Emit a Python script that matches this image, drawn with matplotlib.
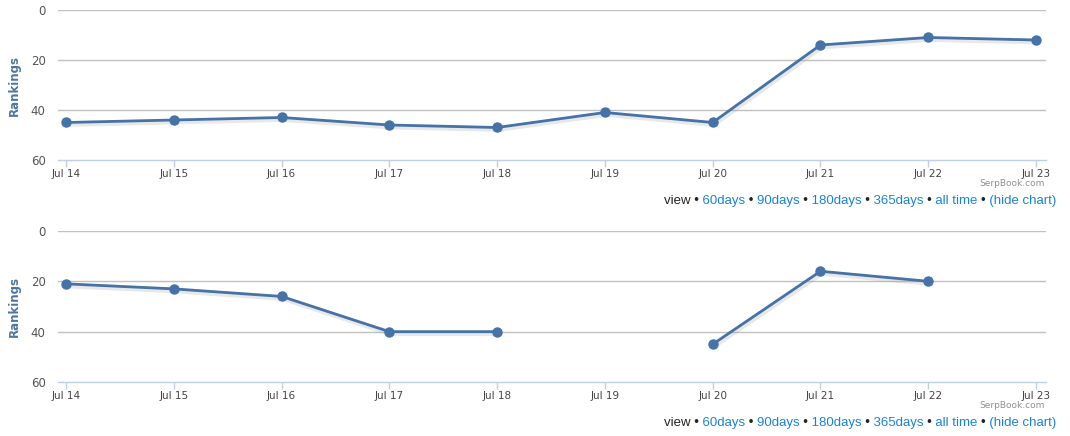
import matplotlib.pyplot as plt
import matplotlib.transforms as mtransforms
import numpy as np

DATES = ["Jul 14", "Jul 15", "Jul 16", "Jul 17", "Jul 18",
         "Jul 19", "Jul 20", "Jul 21", "Jul 22", "Jul 23"]
TOP_RANKS = [45, 44, 43, 46, 47, 41, 45, 14, 11, 12]
BOTTOM_RANKS = [21, 23, 26, 40, 40, np.nan, 45, 16, 20, np.nan]
Y_TICKS = [0, 20, 40, 60]
LINKS = ["60days", "90days", "180days", "365days", "all time", "(hide chart)"]

W, H = 1070, 436
LINE = "#4572A7"
GRID = "#C0C0C0"
AXIS = "#C0D0E0"
LINK = "#1a82d6"
DARK = "#222222"


def draw_chart(fig, top_px, bottom_px, ranks):
    left, right = 58, 1046
    ax = fig.add_axes([left / W, 1 - bottom_px / H, (right - left) / W,
                       (bottom_px - top_px) / H])
    x = np.arange(len(DATES))
    ppu = (1036 - 66) / (len(DATES) - 1)
    ax.set_xlim(-(66 - left) / ppu, len(DATES) - 1 + (right - 1036) / ppu)
    ax.set_ylim(60, 0)

    for yv in Y_TICKS[:-1]:
        ax.axhline(yv, color=GRID, lw=1.0, zorder=1)
    for s in ["top", "left", "right"]:
        ax.spines[s].set_visible(False)
    ax.spines["bottom"].set_color(AXIS)
    ax.spines["bottom"].set_linewidth(1.0)

    # soft shadow under the line, then line with markers on top
    shift = mtransforms.ScaledTranslation(0.8 / 72, -1.2 / 72, fig.dpi_scale_trans)
    ax.plot(x, ranks, color="#999999", lw=4, alpha=0.22, zorder=2,
            transform=ax.transData + shift)
    ax.plot(x, ranks, color=LINE, lw=2.0, marker="o", ms=6.5,
            solid_joinstyle="round", zorder=3)

    ax.set_xticks(x)
    ax.set_xticklabels(DATES, fontsize=7.5, color="#444444")
    ax.tick_params(axis="x", length=5, width=1, color=AXIS, pad=1.5)
    ax.set_yticks(Y_TICKS)
    ax.set_yticklabels([str(v) for v in Y_TICKS], fontsize=8.5, color="#555555")
    ax.tick_params(axis="y", length=0, pad=9)
    ax.set_ylabel("Rankings", fontsize=8.5, fontweight="bold", color="#4d759e",
                  labelpad=7)
    ax.set_facecolor("none")

    fig.text(1045 / W, 1 - (bottom_px + 23) / H, "SerpBook.com", fontsize=6.5,
             color="#909090", ha="right", va="center")
    return ax


def draw_links(fig, renderer, bottom_px):
    # one full line of text, drawn once per piece and clipped to that piece,
    # so spacing stays natural while colours change word by word
    y = 1 - (bottom_px + 41) / H
    pieces = [("view", DARK)]
    for name in LINKS:
        pieces.append(("\u2022", DARK))
        pieces.append((name, LINK))
    kw = dict(fontsize=9.5, family="Liberation Sans", va="center", ha="right")

    probe = fig.text(0, 0, "", **kw)

    def width(s):
        probe.set_text(s)
        return probe.get_window_extent(renderer).width

    full = " ".join(p for p, _ in pieces)
    x_right = 1056.0
    x0 = x_right - width(full)
    spans = []
    prefix = ""
    for text, _ in pieces:
        upto = (prefix + " " + text) if prefix else text
        end = x0 + width(upto)
        spans.append((end - width(text), end))
        prefix = upto
    probe.remove()

    bounds = [0.0]
    for (s0, e0), (s1, e1) in zip(spans[:-1], spans[1:]):
        bounds.append((e0 + s1) / 2)
    bounds.append(W)
    for i, (_, color) in enumerate(pieces):
        t = fig.text(x_right / W, y, full, color=color, **kw)
        box = mtransforms.Bbox.from_extents(bounds[i] / W, 0, bounds[i + 1] / W, 1)
        t.set_clip_box(mtransforms.TransformedBbox(box, fig.transFigure))
        t.set_clip_on(True)


def main():
    fig = plt.figure(figsize=(W / 100, H / 100), dpi=100)
    renderer = fig.canvas.get_renderer()
    for top_px, bottom_px, ranks in [(10, 160, TOP_RANKS), (231, 382, BOTTOM_RANKS)]:
        draw_chart(fig, top_px, bottom_px, ranks)
        draw_links(fig, renderer, bottom_px)
    fig.savefig("out.png", dpi=100)


if __name__ == "__main__":
    main()
